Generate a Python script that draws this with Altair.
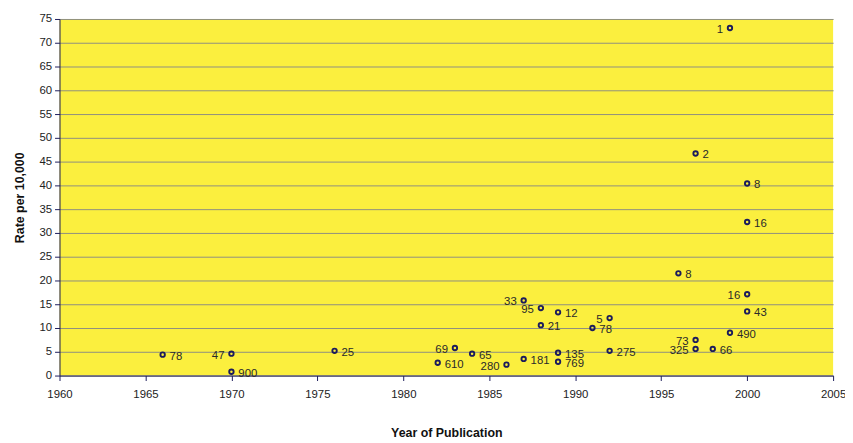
import altair as alt
import pandas as pd

years = [1966, 1970, 1970, 1976, 1982, 1983, 1984, 1986, 1987, 1987, 1988, 1988,
         1989, 1989, 1989, 1991, 1992, 1992, 1996, 1997, 1999, 2000, 2000, 2000,
         2000, 1999, 1997, 1997, 1998]
rates = [4.4, 4.6, 0.8, 5.2, 2.7, 5.8, 4.6, 2.3, 3.5, 15.8, 14.2, 10.6,
         13.3, 4.8, 2.9, 10.0, 12.1, 5.2, 21.5, 46.7, 73.1, 40.4, 32.3, 17.1,
         13.5, 9.0, 7.5, 5.6, 5.6]
labels = ["78", "47", "900", "25", "610", "69", "65", "280", "181", "33", "95", "21",
          "12", "135", "769", "78", "5", "275", "8", "2", "1", "8", "16", "16",
          "43", "490", "73", "325", "66"]
sides = ["R", "L", "R", "R", "R", "L", "R", "L", "R", "L", "L", "R",
         "R", "R", "R", "R", "L", "R", "R", "R", "L", "R", "R", "L",
         "R", "R", "L", "L", "R"]

df = pd.DataFrame({"year": years, "rate": rates, "label": labels, "side": sides})

x = alt.X("year:Q", title="Year of Publication",
          scale=alt.Scale(domain=[1960, 2005], nice=False, zero=False),
          axis=alt.Axis(values=list(range(1960, 2006, 5)), format="d", grid=False,
                        labelFlush=False, labelOverlap=False,
                        domainColor="#1c1c5c", tickColor="#1c1c5c", tickSize=5,
                        labelFont="Liberation Sans", labelFontSize=11.5, labelColor="#222",
                        labelPadding=8, titleFont="Liberation Sans", titleFontSize=12.5,
                        titleFontWeight="bold", titleColor="#111", titlePadding=27))
y = alt.Y("rate:Q", title="Rate per 10,000",
          scale=alt.Scale(domain=[0, 75], nice=False),
          axis=alt.Axis(values=list(range(0, 76, 5)), grid=True, gridColor="#8f8f80",
                        labelFlush=False, labelOverlap=False,
                        gridWidth=1, domainColor="#1c1c5c", tickColor="#1c1c5c", tickSize=5,
                        labelFont="Liberation Sans", labelFontSize=11.5, labelColor="#222",
                        labelPadding=3, titleFont="Liberation Sans", titleFontSize=12.5,
                        titleFontWeight="bold", titleColor="#111", titlePadding=13))

base = alt.Chart(df)
pts = base.mark_point(shape="circle", size=20, filled=False, stroke="#1c1c5c",
                      strokeWidth=1.9, opacity=1).encode(x=x, y=y)
right = base.transform_filter(alt.datum.side == "R").mark_text(
    align="left", dx=7, dy=2, font="Liberation Sans", fontSize=11.5, color="#2a2a2a"
).encode(x=x, y=y, text="label:N")
left = base.transform_filter(alt.datum.side == "L").mark_text(
    align="right", dx=-7, dy=2, font="Liberation Sans", fontSize=11.5, color="#2a2a2a"
).encode(x=x, y=y, text="label:N")

chart = (pts + right + left).properties(
    width=781, height=360,
    autosize=alt.AutoSizeParams(type="none"),
    padding={"left": 52, "top": 9, "right": 12, "bottom": 66},
    background="white",
).configure_view(fill="#fbef3e", stroke=None)

chart.save("out.html", embed_options={"renderer": "svg", "actions": False})
